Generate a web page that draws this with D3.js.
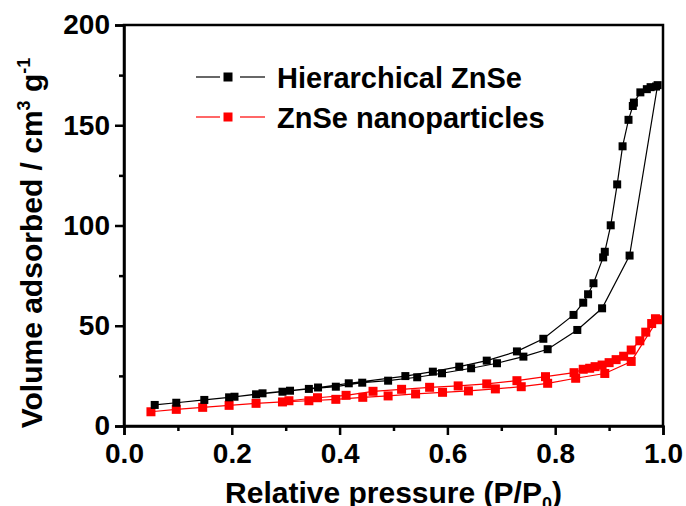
<!DOCTYPE html>
<html>
<head>
<meta charset="utf-8">
<script src="https://cdn.jsdelivr.net/npm/d3@7"></script>
<style>
    body { margin: 0; background: #fff; }
    text { font-family: "Liberation Sans", Arial, sans-serif; font-weight: bold; fill: #000; }
</style>
</head>
<body>
<div id="chart"></div>
<script>
// Hierarchical ZnSe (black)
const hierAdsP = [0.057, 0.097, 0.149, 0.195, 0.245, 0.294, 0.343, 0.393, 0.442, 0.49, 0.544, 0.59, 0.644, 0.692, 0.741, 0.786, 0.841, 0.887, 0.938, 0.99];
const hierAdsV = [10.5, 11.6, 13.0, 14.3, 15.8, 17.1, 18.5, 19.6, 21.6, 22.6, 24.3, 26.3, 28.8, 31.3, 34.6, 38.3, 47.9, 58.7, 85.0, 170.0];
const hierDesP = [0.987, 0.977, 0.97, 0.958, 0.946, 0.944, 0.936, 0.925, 0.915, 0.903, 0.892, 0.889, 0.871, 0.861, 0.852, 0.834, 0.778, 0.729, 0.673, 0.622, 0.573, 0.522, 0.417, 0.36, 0.308, 0.257, 0.205];
const hierDesV = [169.3, 169.0, 168.0, 166.4, 161.3, 159.6, 152.7, 139.5, 120.5, 100.1, 86.9, 84.1, 71.2, 65.7, 61.5, 55.4, 43.5, 37.2, 32.6, 29.6, 27.1, 24.9, 21.3, 19.2, 17.6, 16.3, 14.6];

// ZnSe nanoparticles (red)
const nanoAdsP = [0.05, 0.097, 0.146, 0.195, 0.245, 0.294, 0.343, 0.393, 0.443, 0.49, 0.541, 0.591, 0.639, 0.689, 0.737, 0.786, 0.838, 0.892, 0.941, 0.99];
const nanoAdsV = [7.1, 8.3, 9.3, 10.3, 11.3, 12.0, 12.6, 13.3, 14.3, 15.0, 16.0, 16.8, 17.5, 18.5, 19.6, 21.3, 23.8, 26.2, 32.2, 53.0];
const nanoDesP = [0.986, 0.979, 0.968, 0.957, 0.941, 0.927, 0.913, 0.9, 0.887, 0.874, 0.864, 0.852, 0.835, 0.782, 0.729, 0.673, 0.62, 0.567, 0.515, 0.462, 0.412, 0.359, 0.306];
const nanoDesV = [53.5, 51.1, 46.8, 42.5, 37.9, 34.8, 33.1, 31.6, 30.4, 29.6, 28.8, 28.3, 26.6, 24.6, 22.6, 21.0, 20.0, 19.3, 18.3, 17.3, 15.3, 14.1, 12.6];

const xTicks = [0, 0.2, 0.4, 0.6, 0.8, 1.0];
const xMinor = [0.1, 0.3, 0.5, 0.7, 0.9];
const yTicks = [0, 50, 100, 150, 200];
const yMinor = [25, 75, 125, 175];
const legendNames = ["Hierarchical ZnSe", "ZnSe nanoparticles"];
const colors = ["#000000", "#ff0000"];

let width = 686, height = 506;
let margin = {top: 25, right: 23, bottom: 80, left: 124};

let svg = d3.select("#chart")
    .append("svg")
    .attr("width", width)
    .attr("height", height);

let x = d3.scaleLinear().domain([0, 1]).range([margin.left, width - margin.right]);
let y = d3.scaleLinear().domain([0, 200]).range([height - margin.bottom, margin.top]);

// frame
svg.append("rect")
    .attr("x", x(0)).attr("y", y(200))
    .attr("width", x(1) - x(0)).attr("height", y(0) - y(200))
    .attr("fill", "none").attr("stroke", "#000").attr("stroke-width", 2.5);

// X axis
let xAxis = svg.append("g")
    .attr("transform", "translate(0," + y(0) + ")")
    .call(d3.axisBottom(x).tickValues(xTicks).tickFormat(d3.format(".1f")).tickSize(9).tickPadding(8));
svg.append("g")
    .attr("transform", "translate(0," + y(0) + ")")
    .call(d3.axisBottom(x).tickValues(xMinor).tickFormat("").tickSize(5))
    .call(g => g.select(".domain").remove());

// Y axis
let yAxis = svg.append("g")
    .attr("transform", "translate(" + x(0) + ",0)")
    .call(d3.axisLeft(y).tickValues(yTicks).tickSize(9).tickPadding(5));
svg.append("g")
    .attr("transform", "translate(" + x(0) + ",0)")
    .call(d3.axisLeft(y).tickValues(yMinor).tickFormat("").tickSize(5))
    .call(g => g.select(".domain").remove());

svg.selectAll(".domain").attr("stroke-width", 2.5);
svg.selectAll(".tick line").attr("stroke-width", 2.5);
svg.selectAll(".tick text").style("font-size", "28px").style("font-family", "'Liberation Sans', Arial, sans-serif").style("font-weight", "bold");

// axis titles
let xTitle = svg.append("text")
    .attr("x", (x(0) + x(1)) / 2)
    .attr("y", 503)
    .attr("text-anchor", "middle")
    .style("font-size", "30px");
xTitle.append("tspan").text("Relative pressure (P/P");
xTitle.append("tspan").attr("dy", 7).style("font-size", "18px").text("0");
xTitle.append("tspan").attr("dy", -7).text(")");

let yTitle = svg.append("text")
    .attr("transform", "translate(42,243) rotate(-90)")
    .attr("text-anchor", "middle")
    .style("font-size", "30px");
yTitle.append("tspan").text("Volume adsorbed / cm");
yTitle.append("tspan").attr("dy", -12).style("font-size", "18px").text("3");
yTitle.append("tspan").attr("dy", 12).text(" g");
yTitle.append("tspan").attr("dy", -12).style("font-size", "18px").text("-1");

let line = d3.line()
    .x(d => x(d[0]))
    .y(d => y(d[1]));

function drawSeries(ps, vs, color, size) {
    let data = ps.map((p, i) => [p, vs[i]]);
    svg.append("path")
        .datum(data)
        .attr("d", line)
        .attr("fill", "none")
        .attr("stroke", color)
        .attr("stroke-width", 1.2);
    svg.append("g").selectAll("rect")
        .data(data)
        .enter()
        .append("rect")
        .attr("x", d => x(d[0]) - size / 2)
        .attr("y", d => y(d[1]) - size / 2)
        .attr("width", size)
        .attr("height", size)
        .attr("fill", color);
}

// adsorption ends at the top and desorption starts there, so join them into one path
drawSeries(nanoAdsP.concat(nanoDesP), nanoAdsV.concat(nanoDesV), colors[1], 9);
drawSeries(hierAdsP.concat(hierDesP), hierAdsV.concat(hierDesV), colors[0], 8);

// legend
legendNames.forEach((name, i) => {
    let ly = 77 + i * 40;
    let g = svg.append("g");
    g.append("line").attr("x1", 196).attr("x2", 220).attr("y1", ly).attr("y2", ly)
        .attr("stroke", colors[i]).attr("stroke-width", 1.2);
    g.append("line").attr("x1", 240).attr("x2", 265).attr("y1", ly).attr("y2", ly)
        .attr("stroke", colors[i]).attr("stroke-width", 1.2);
    g.append("rect").attr("x", 228 - 4.5).attr("y", ly - 4.5).attr("width", 9).attr("height", 9)
        .attr("fill", colors[i]);
    g.append("text").attr("x", 277).attr("y", ly + 10.5)
        .style("font-size", "29px")
        .text(name);
});
</script>
</body>
</html>
